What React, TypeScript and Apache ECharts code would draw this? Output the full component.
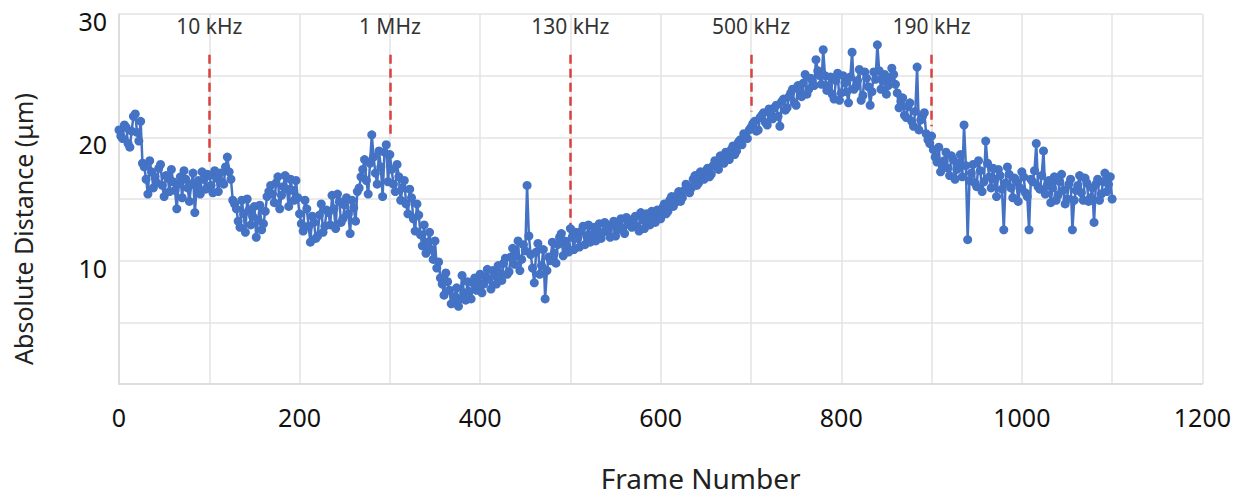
import React, { useEffect, useRef } from "react";
import * as echarts from "echarts";

// Samples are taken every FRAME_STEP frames; "even" samples at 0,4,8,... and
// "odd" samples half a step later (2,6,10,...)
const FRAME_STEP = 4;

// Absolute distance (µm) — samples at frames 0,4,...
const even0to96 = [
  20.6, 19.9, 20.8, 19.2, 21.7, 20.4, 21.3,
  17.6, 15.4, 17.2, 16.8, 17.5, 16.1, 16.9, 15.6, 16.4, 14.2, 16.8, 17.3, 15.9, 16.2, 13.9, 16.5, 17.2, 15.8,
];
const even100to296 = [
  16.9, 15.5, 16.7, 17.1, 16.2, 18.4, 16.6,
  14.6, 13.2, 14.9, 12.3, 14.1, 13.6, 11.9, 14.5, 13.0, 15.2,
  16.1, 14.7, 16.8, 15.3, 16.9, 14.4, 15.7, 16.5,
  13.8, 12.4, 14.2, 11.5, 13.1, 12.0, 14.6, 12.8,
  13.9, 15.3, 12.6, 14.8, 13.4, 15.1, 12.2, 14.3, 15.6,
  16.8, 18.2, 15.4, 20.2, 17.1, 18.9, 15.2, 19.4,
];
const even300to496 = [
  18.6, 16.2, 17.8, 14.9, 16.5, 13.8, 15.1, 12.4, 13.7, 11.2, 10.6, 12.3, 10.1, 9.4, 8.6, 7.2, 8.3, 6.5, 7.1, 6.3, 8.8, 6.8, 7.5,
  8.2, 7.6, 8.9, 8.1, 9.3, 7.7, 8.8, 9.6, 8.4, 10.2, 9.1, 11.0, 10.4, 9.2, 11.3,
  16.1, 10.5, 8.2, 11.4, 9.6, 6.9, 10.3, 11.5, 9.8, 11.9, 10.4, 11.2,
];
const even500to696 = [
  12.6, 10.9, 11.8, 12.4, 11.3, 12.9, 12.1, 11.6, 13.0, 12.3, 12.8, 11.9, 13.2, 12.5, 13.4, 12.2, 13.1, 12.7, 13.6, 12.4, 13.3, 13.8, 12.9, 13.5, 14.1,
  13.4, 14.6, 14.0, 15.2, 14.7, 15.6, 15.1, 16.2, 15.5, 16.6, 16.1, 17.2, 16.6, 17.5, 17.0, 18.1, 17.4, 18.3, 18.8, 18.2, 19.3, 18.9, 19.8, 20.3, 19.9,
];
const even700to896 = [
  20.8, 21.3, 20.6, 21.8, 21.2, 22.3, 21.5, 22.6, 20.9, 23.1, 22.4, 23.6, 22.8, 24.2, 23.3, 25.1, 23.9, 24.6, 26.3, 25.0, 27.1,
  23.8, 24.9, 23.1, 25.2, 23.6, 24.4, 22.8, 26.9, 24.1, 25.5, 23.4, 24.8, 22.6, 25.3, 27.5, 23.9, 25.1, 24.2, 25.6, 24.3,
  22.4, 23.2, 21.6, 22.8, 20.9, 25.7, 21.4, 22.0, 19.8,
];
const even900to1100 = [
  20.1, 18.4, 19.2, 17.6, 18.8, 16.9, 18.2, 17.4, 18.6, 21.0,
  11.7, 17.1, 16.3, 18.1, 15.6, 19.7, 16.8, 17.5, 15.2, 16.9,
  12.5, 17.6, 15.9, 16.7, 14.8, 17.2, 15.5, 12.5, 16.4, 19.5,
  15.8, 18.9, 16.1, 14.7, 16.8, 15.3, 17.0, 14.6, 16.2, 12.5,
  15.7, 16.9, 14.9, 16.3, 15.1, 13.1, 16.6, 15.4, 17.1, 16.2,
  15.0,
];

// Samples at frames 2,6,10,...
const odd2to98 = [
  20.1, 21.0, 19.5, 20.5, 21.9, 19.7, 17.9, 16.6, 18.1, 15.9, 16.3, 17.8, 15.2, 16.7, 17.4, 15.7, 16.2, 15.1, 16.6, 14.8, 17.1, 16.0, 15.4, 16.6, 17.0,
];
const odd102to298 = [
  16.1, 17.3, 15.6, 16.4, 17.6, 17.2, 14.9,
  14.2, 12.7, 13.8, 15.0, 12.9, 14.4, 13.3, 12.5, 14.0, 15.6,
  15.4, 16.3, 14.2, 16.0, 15.8, 16.6, 14.9, 15.1,
  13.0, 14.9, 12.8, 13.6, 11.8, 13.7, 12.3, 14.1,
  12.9, 14.2, 15.4, 13.1, 14.5, 13.8, 14.9, 13.2, 15.9,
  17.4, 16.5, 17.9, 18.4, 16.2, 17.6, 18.8, 16.4,
];
const odd302to498 = [
  17.4, 15.6, 16.8, 15.9, 14.6, 15.8, 13.4, 14.6, 12.1, 12.9, 11.5, 10.9, 11.6, 9.9, 8.1, 9.0, 7.6, 6.6, 7.8, 6.9, 7.4, 8.3, 6.9,
  8.6, 8.0, 7.4, 8.7, 8.5, 9.2, 8.1, 9.0, 9.8, 8.9, 10.3, 9.7, 11.6, 10.1,
  10.8, 12.0, 9.4, 10.7, 8.9, 10.9, 9.2, 10.0, 10.6, 11.3, 12.2, 11.6, 10.7,
];
const odd502to698 = [
  11.9, 12.3, 11.1, 12.8, 12.0, 11.5, 12.7, 12.3, 11.8, 13.1, 12.4, 12.9, 12.0, 13.0, 12.6, 13.5, 12.9, 13.4, 12.8, 13.9, 12.6, 13.2, 14.0, 13.1, 13.6,
  14.3, 13.8, 14.9, 14.4, 15.3, 14.8, 15.7, 16.0, 15.9, 16.9, 16.3, 17.0, 17.3, 16.8, 17.7, 17.6, 18.5, 17.9, 18.5, 19.0, 18.6, 19.6, 19.4, 20.1, 20.6,
];
const odd702to898 = [
  21.1, 20.5, 21.6, 22.0, 21.0, 22.0, 22.4, 21.7, 22.9, 22.2, 23.3, 23.9, 22.6, 23.8, 24.4, 23.5, 24.8, 24.2, 25.4, 24.3, 25.0,
  24.2, 23.5, 24.6, 23.0, 25.0, 23.7, 24.9, 23.9, 24.6, 23.0, 25.3, 24.1, 23.7, 24.7, 25.4, 24.6, 23.5, 24.8, 25.1, 23.6,
  22.9, 21.8, 22.5, 21.3, 22.1, 20.6, 21.7, 20.3, 19.5,
];
const odd902to1098 = [
  19.0, 18.0, 17.2, 18.1, 17.5, 18.5, 16.6, 17.9, 16.8, 17.7,
  16.5, 17.8, 16.0, 17.3, 16.4, 17.9, 15.9, 16.6, 17.4, 15.8,
  16.3, 17.0, 15.1, 16.4, 15.9, 16.8, 15.2, 16.6, 17.3, 16.0,
  16.9, 15.4, 16.5, 15.9, 14.9, 16.4, 15.7, 15.0, 16.6, 14.9,
  16.1, 15.5, 16.7, 14.8, 15.9, 16.2, 14.9, 16.4, 15.6, 16.8,
];

// Frequency annotations
const markerFrames = [100, 300, 500, 700, 900];
const markerLabels = ["10 kHz", "1 MHz", "130 kHz", "500 kHz", "190 kHz"];
const markerTop = 26.7;
const markerBottoms = [17.7, 20.2, 12.7, 22.1, 20.9];

// Axis ticks
const xLabelTicks = [0, 200, 400, 600, 800, 1000, 1200];
const yLabelTicks = [10, 20, 30];

const FONT = "'Noto Sans', 'Open Sans', sans-serif";

export default function App() {
  const ref = useRef<HTMLDivElement>(null);

  useEffect(() => {
    document.body.style.margin = "0";
    if (!ref.current) return;
    const chart = echarts.init(ref.current, undefined, { renderer: "svg" });

    const even = [
      ...even0to96,
      ...even100to296,
      ...even300to496,
      ...even500to696,
      ...even700to896,
      ...even900to1100,
    ];
    const odd = [
      ...odd2to98,
      ...odd102to298,
      ...odd302to498,
      ...odd502to698,
      ...odd702to898,
      ...odd902to1098,
    ];
    const points: number[][] = [];
    even.forEach((v, i) => {
      points.push([i * FRAME_STEP, v]);
      if (i < odd.length) points.push([i * FRAME_STEP + FRAME_STEP / 2, odd[i]]);
    });

    const markLineData = markerFrames.map((f, i) => [
      { coord: [f, markerTop], name: markerLabels[i] },
      { coord: [f, markerBottoms[i]] },
    ]);

    chart.setOption({
      animation: false,
      backgroundColor: "#ffffff",
      grid: { left: 119, right: 31, top: 14, bottom: 108, containLabel: false },
      xAxis: {
        type: "value",
        min: 0,
        max: 1200,
        interval: 100,
        name: "Frame Number",
        nameLocation: "middle",
        nameGap: 80,
        nameTextStyle: { fontFamily: FONT, fontSize: 28, color: "#222", padding: [0, 0, 0, 80] },
        axisLine: { show: true, lineStyle: { color: "#d9d9d9", width: 1.5 } },
        axisTick: { show: false },
        axisLabel: {
          fontFamily: FONT,
          fontSize: 25,
          color: "#111",
          margin: 20,
          formatter: (v: number) => (xLabelTicks.includes(v) ? String(v) : ""),
        },
        splitLine: { show: true, lineStyle: { color: "#e3e3e3", width: 1.5 } },
      },
      yAxis: {
        type: "value",
        min: 0,
        max: 30,
        interval: 5,
        name: "Absolute Distance (μm)",
        nameLocation: "middle",
        nameGap: 84,
        nameTextStyle: { fontFamily: FONT, fontSize: 25, color: "#222", padding: [0, 60, 0, 0] },
        axisLine: { show: true, lineStyle: { color: "#d9d9d9", width: 1.5 } },
        axisTick: { show: false },
        axisLabel: {
          fontFamily: FONT,
          fontSize: 25,
          color: "#111",
          margin: 12,
          verticalAlign: "top",
          lineHeight: 14,
          formatter: (v: number) => (yLabelTicks.includes(v) ? String(v) : ""),
        },
        splitLine: { show: true, lineStyle: { color: "#e3e3e3", width: 1.5 } },
      },
      series: [
        {
          type: "line",
          data: points,
          symbol: "circle",
          symbolSize: 9,
          showSymbol: true,
          lineStyle: { color: "#4472C4", width: 2.5 },
          itemStyle: { color: "#4472C4" },
          z: 3,
          markLine: {
            silent: true,
            symbol: ["none", "none"],
            lineStyle: { color: "#d9413f", width: 2.5, type: [9, 5] },
            label: {
              show: true,
              position: "start",
              distance: 18,
              formatter: "{b}",
              fontFamily: FONT,
              fontSize: 21,
              color: "#333",
            },
            data: markLineData,
            z: 2,
          },
        },
      ],
    });

    return () => chart.dispose();
  }, []);

  return <div ref={ref} style={{ width: 1234, height: 497 }} />;
}
